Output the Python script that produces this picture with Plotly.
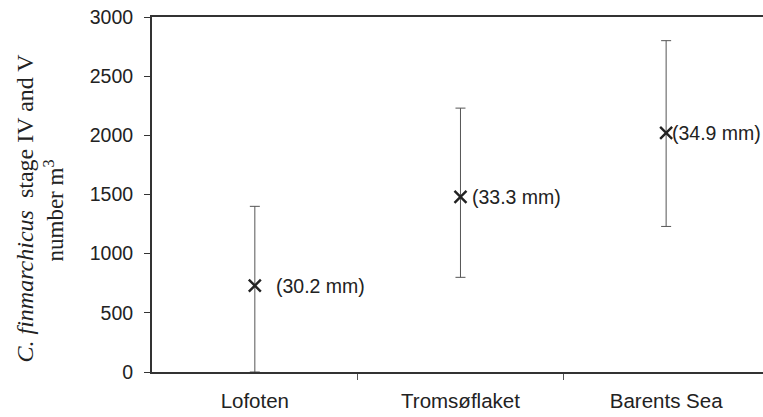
import plotly.graph_objects as go

categories = ["Lofoten", "Tromsøflaket", "Barents Sea"]
means = [730, 1480, 2020]
upper = [1400, 2230, 2800]
lower = [0, 800, 1230]
size_labels = ["(30.2 mm)", "(33.3 mm)", "(34.9 mm)"]
y_ticks = [0, 500, 1000, 1500, 2000, 2500, 3000]

xs = list(range(len(categories)))
err_plus = [u - m for u, m in zip(upper, means)]
err_minus = [m - l for m, l in zip(means, lower)]

fig = go.Figure()
fig.add_trace(go.Scatter(
    x=xs, y=means, mode="markers",
    marker=dict(symbol="x-thin-open", size=12, color="#222", line=dict(width=2.4, color="#222")),
    error_y=dict(type="data", array=err_plus, arrayminus=err_minus,
                 thickness=1, width=5, color="#555"),
    showlegend=False, hoverinfo="skip",
))

label_shift = [19, 10, 4]
for x, m, t, s in zip(xs, means, size_labels, label_shift):
    fig.add_annotation(x=x, y=m, text=t, showarrow=False, xanchor="left",
                       xshift=s, font=dict(family="Liberation Sans, Arial", size=19.5, color="#222"))

fig.add_annotation(xref="paper", yref="paper", x=0, y=0.5, xshift=-128, yshift=-14,
                   text="<i>C. finmarchicus</i>  stage IV and V",
                   textangle=-90, showarrow=False, xanchor="center", yanchor="middle",
                   font=dict(family="Liberation Serif, Times New Roman", size=24, color="#222"))
fig.add_annotation(xref="paper", yref="paper", x=0, y=0.5, xshift=-98, yshift=-16,
                   text="number m<sup>3</sup>",
                   textangle=-90, showarrow=False, xanchor="center", yanchor="middle",
                   font=dict(family="Liberation Serif, Times New Roman", size=23, color="#222"))

fig.update_layout(
    width=763, height=417,
    margin=dict(l=152, r=0, t=17, b=45),
    paper_bgcolor="white", plot_bgcolor="white",
    font=dict(family="Liberation Sans, Arial", size=20, color="#222"),
    xaxis=dict(range=[-0.5, 2.471], tickvals=xs, ticktext=categories, ticks="",
               showline=True, linecolor="#333", linewidth=2, mirror=True,
               showgrid=False, zeroline=False, ticklabelstandoff=9,
               tickfont=dict(size=20.5),
               minor=dict(tickvals=[0.5, 1.5], ticks="outside", ticklen=6, tickcolor="#555", tickwidth=1)),
    yaxis=dict(range=[0, 3000], tickvals=y_ticks, ticks="outside", ticklen=6, tickcolor="#333",
               showline=True, linecolor="#333", linewidth=2, showgrid=False, zeroline=False,
               ticklabelstandoff=7, tickfont=dict(size=19.5)),
)

fig.write_html("out.html", config={"displayModeBar": False},
               post_script="document.body.style.margin='0';")
